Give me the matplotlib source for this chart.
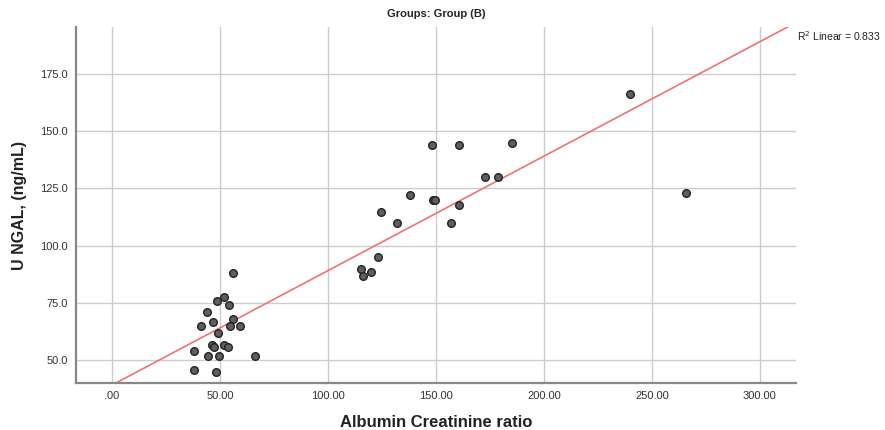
import numpy as np
import matplotlib.pyplot as plt

plt.rcParams['font.family'] = ['Liberation Sans', 'DejaVu Sans']

# Albumin creatinine ratio vs urinary NGAL, group B
acr = [55.9, 51.9, 48.5, 54.3, 43.8, 46.9, 56.2, 41.0, 54.6, 59.4,
       48.9, 46.3, 47.1, 51.9, 53.7, 38.0, 44.3, 49.5, 66.1, 38.0,
       48.1,
       148.1, 160.8, 185.0, 172.8, 178.7, 137.8, 148.8, 149.5, 160.5,
       124.4, 131.8, 156.9, 123.1, 115.1, 120.0, 116.0,
       240.0, 265.7]
ungal = [88.0, 77.6, 75.8, 73.9, 70.8, 66.7, 67.9, 64.7, 64.7, 64.7,
         61.8, 56.7, 55.8, 56.7, 55.8, 53.9, 51.7, 51.7, 51.7, 45.8,
         44.8,
         143.9, 143.9, 144.9, 129.9, 129.9, 121.9, 120.0, 120.0, 117.8,
         114.9, 109.8, 109.8, 95.0, 89.9, 88.7, 86.8,
         166.2, 122.9]

# fit line as drawn on the chart
fit_intercept = 39.1
fit_slope = 0.50
r2_text = '0.833'

xticks = [0, 50, 100, 150, 200, 250, 300]
xtick_labels = ['.00', '50.00', '100.00', '150.00', '200.00', '250.00', '300.00']
yticks = [50, 75, 100, 125, 150, 175]

fig = plt.figure(figsize=(8.85, 4.3), dpi=100)
ax = fig.add_axes([76/885, 47/430, 720/885, 356/430])

xlim = (-16.7, 316.7)
ylim = (40, 195.5)

ax.grid(True, color='#cccccc', lw=1.0)
ax.set_axisbelow(True)

xs = np.array(xlim)
ax.plot(xs, fit_intercept + fit_slope * xs, color='#f07272', lw=1.2, zorder=2)

ax.scatter(acr, ungal, s=30, facecolor='#5e5e5e', edgecolor='#222222',
           linewidths=1.0, zorder=3)

ax.set_xlim(*xlim)
ax.set_ylim(*ylim)
ax.set_xticks(xticks)
ax.set_xticklabels(xtick_labels)
ax.set_yticks(yticks)
ax.set_yticklabels([f'{v:.1f}' for v in yticks])
ax.tick_params(length=0, labelsize=8, colors='#333333', pad=6)

for s in ['top', 'right']:
    ax.spines[s].set_visible(False)
for s in ['left', 'bottom']:
    ax.spines[s].set_color('#888888')
    ax.spines[s].set_linewidth(1.6)

ax.set_xlabel('Albumin Creatinine ratio', fontsize=12, fontweight='bold',
              color='#222222', labelpad=10)
ax.set_ylabel('U NGAL, (ng/mL)', fontsize=11.5, fontweight='bold',
              color='#222222', labelpad=9)
ax.set_title('Groups: Group (B)', fontsize=8, fontweight='bold',
             color='#222222', pad=7)

fig.text(797/885, 1 - 36/430, r'R$^2$ Linear = ' + r2_text, fontsize=7.5,
         color='#222222', va='center', ha='left')

fig.savefig('out.png', dpi=100)
